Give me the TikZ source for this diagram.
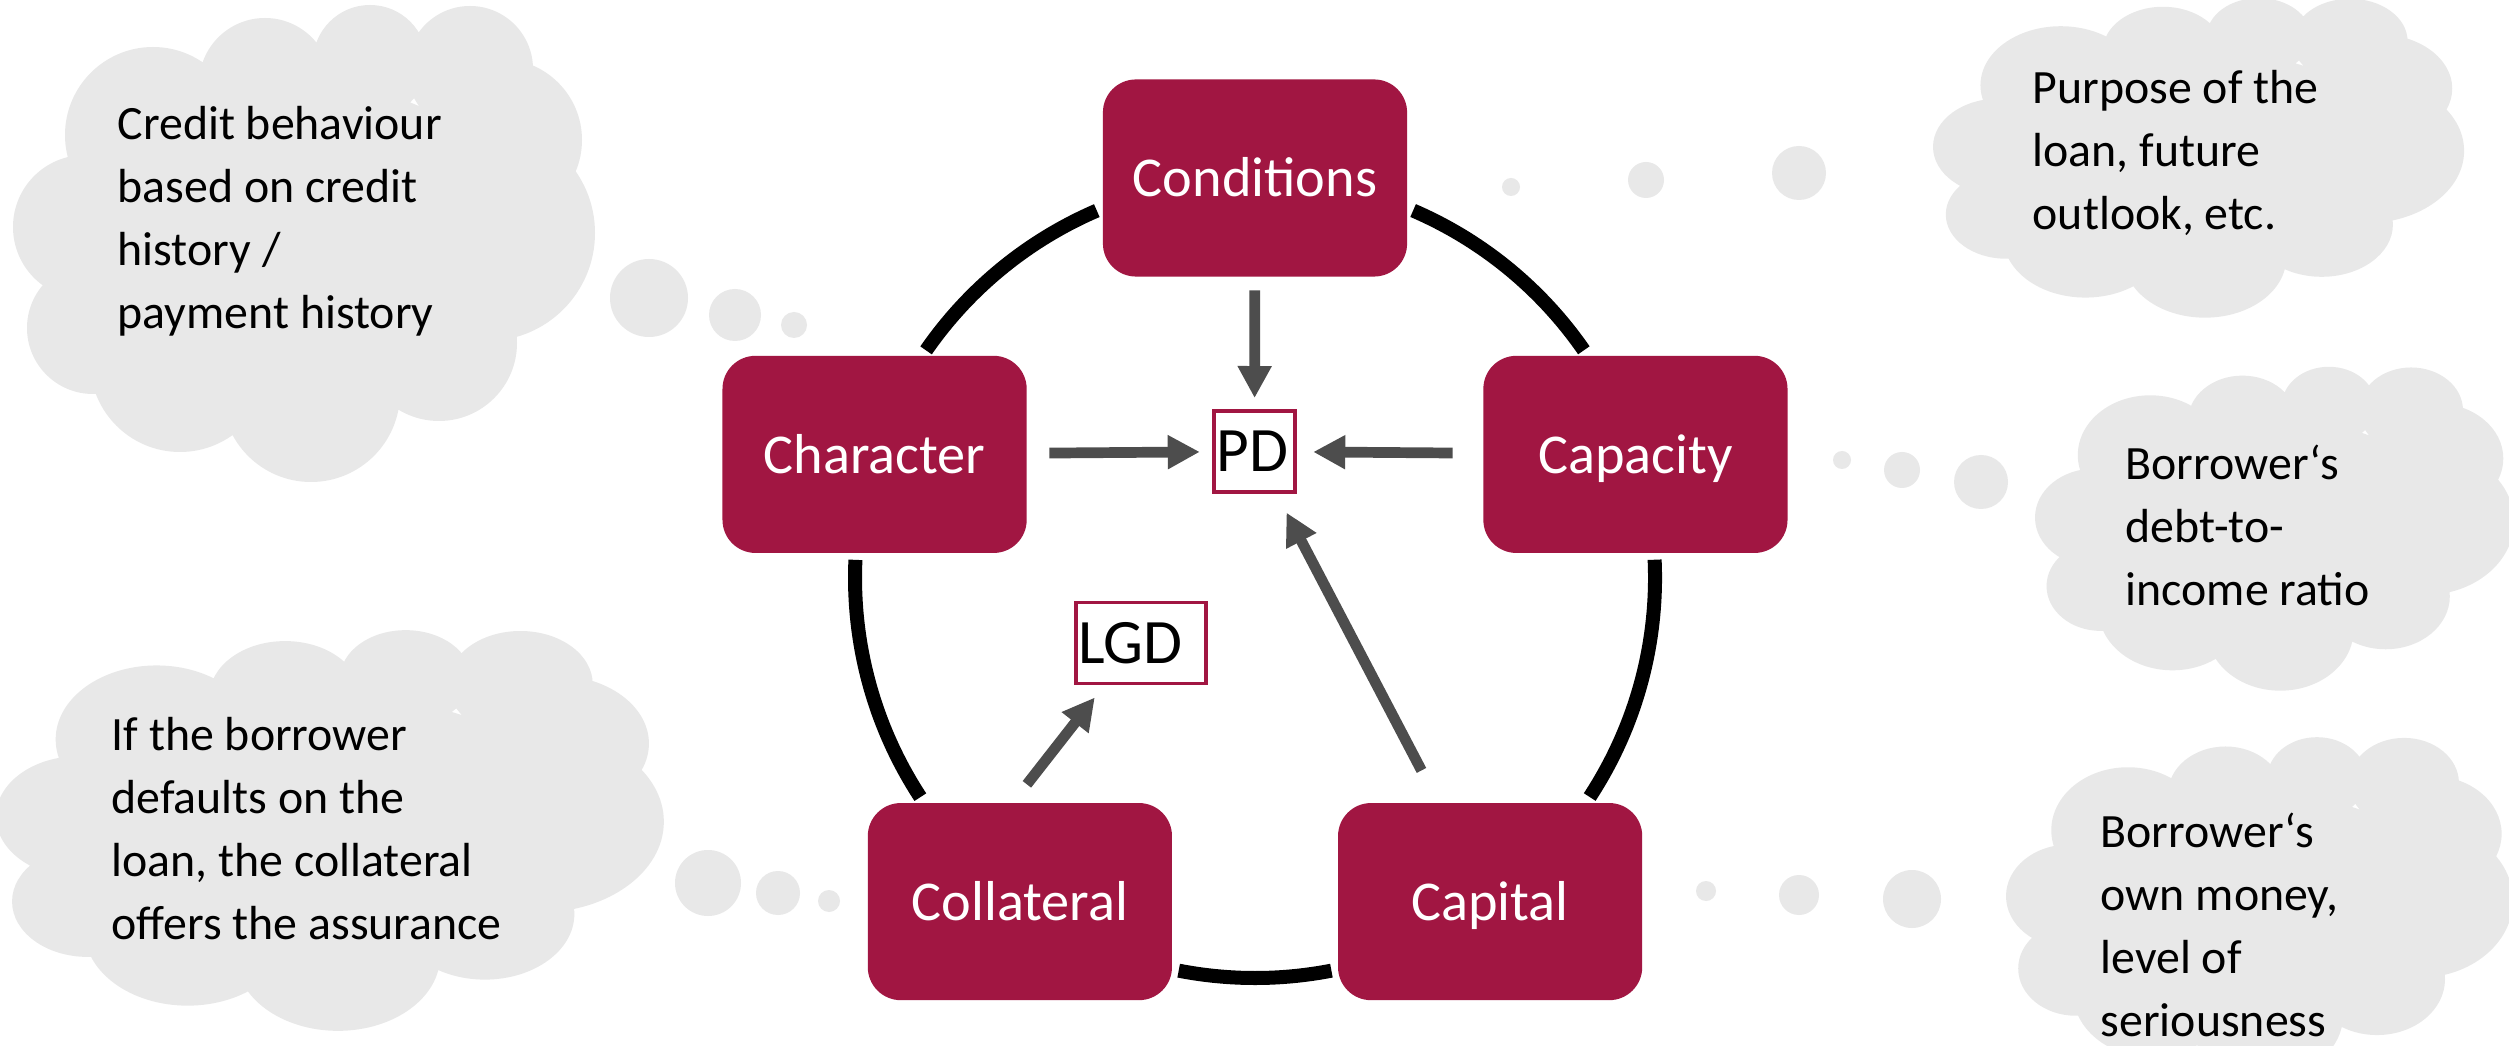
\documentclass[tikz,border=0pt]{standalone}
\usepackage{fontspec}
\setmainfont{Carlito}
\usetikzlibrary{arrows.meta,calc}

\definecolor{berry}{RGB}{161,22,66}
\definecolor{puffgray}{RGB}{232,232,232}
\definecolor{arrowgray}{RGB}{77,77,77}

\tikzset{
  % cloud outline: a core ellipse and eleven lobes, 583 x 476 units
  pics/thought/.style={code={
    \fill[puffgray] (292,238) ellipse [x radius=220, y radius=160]
      \foreach \cx/\cy/\rad in {140/346/88, 252/397/66, 357/419/57, 457/412/63,
        488/341/81, 474/248/108, 426/138/78, 298/88/89, 167/119/90, 80/153/66, 72/254/72}
      { (\cx,\cy) circle [radius=\rad] };
  }}
}

\begin{document}
\begin{tikzpicture}[x=0.01cm, y=0.01cm,
    factor/.style={fill=berry, rounded corners=0.33cm, minimum width=3.04cm,
      minimum height=1.97cm, inner sep=0, text=white,
      font=\fontsize{16}{19}\selectfont, text height=12.6pt, text depth=2pt},
    metric/.style={draw=berry, line width=1.1pt, fill=white, inner xsep=0.03cm,
      inner ysep=0, minimum height=0.81cm, align=left,
      font=\fontsize{18}{22}\selectfont, text height=11.4pt, text depth=0pt},
    note/.style={anchor=north west, inner sep=0, align=left,
      font=\fontsize{13.6}{17.9}\selectfont},
    ring/.style={line width=0.14cm},
    feed/.style={draw=arrowgray, line width=0.107cm,
      -{Triangle[length=0.32cm, width=0.32cm]}},
  ]
    \path[use as bounding box, fill=white] (0,0) rectangle (2509,1045);
    \clip (0,0) rectangle (2509,1045);

    % clouds
    \pic at (13,564) {thought};
    \pic[xscale=0.9125, yscale=0.670] at (1933,728) {thought};
    \pic[xscale=0.823, yscale=0.679] at (2035,355) {thought};
    \pic[xscale=1.1475, yscale=0.840] at (-4,15) {thought};
    \pic[xscale=0.871, yscale=0.716] at (2006,-33) {thought};

    % bubbles leading to the clouds
    \foreach \x/\y/\rad in {649/747/39, 735/730/26, 794/720/13,
        1511/858/9, 1646/865/18, 1799/872/27,
        1842/585/9, 1902/575/18, 1981/563/27,
        708/162/33, 778/152/22, 829/144/11,
        1706/154/10, 1799/150/20, 1912/146/29}
      \fill[puffgray] (\x,\y) circle [radius=\rad];

    \node[note] (behaviour) at (117,939) {Credit behaviour\\based on credit\\history /\\payment history};
    \node[note] (purpose) at (2032,975) {Purpose of the\\loan, future\\outlook, etc.};
    \node[note] (debt) at (2125,601) {Borrower‘s\\debt-to-\\income ratio};
    \node[note] (assurance) at (111,328) {If the borrower\\defaults on the\\loan, the collateral\\offers the assurance};
    \node[note] (money) at (2100,233) {Borrower‘s\\own money,\\level of\\seriousness};

    % ring between the five boxes
    \coordinate (hub) at (1255,467);
    \foreach \a/\b in {113.3/145.3, 177.4/213.2, 259/281, 326.8/362.6, 34.7/66.7}
      \draw[ring] ($(hub)+(\a:400)$) arc [start angle=\a, end angle=\b, radius=4cm];

    \node[factor] (cond) at ($(hub)+(90:400)$) {Conditions};
    \node[factor] (capac) at ($(hub)+(18:400)$) {Capacity};
    \node[factor] (capit) at ($(hub)+(-54:400)$) {Capital};
    \node[factor] (coll) at ($(hub)+(234:400)$) {Collateral};
    \node[factor] (char) at ($(hub)+(162:400)$) {Character};

    \node[metric, text width=0.755cm] (pd) at (1254.5,593.5) {PD};
    \node[metric, text width=1.245cm] (lgd) at (1141,402) {LGD};

    \draw[feed, shorten <=0.13cm, shorten >=0.11cm] (cond) -- (pd);
    \draw[feed, shorten <=0.22cm, shorten >=0.12cm] (char) -- (pd);
    \draw[feed, shorten <=0.30cm, shorten >=0.16cm] (capac) -- (pd);
    \draw[feed, shorten <=0.36cm, shorten >=0.21cm] (capit) -- (pd);
    \draw[feed] ([shift={(0.07cm,0.18cm)}]coll.north) -- ([shift={(0.21cm,-0.12cm)}]lgd.south west);
\end{tikzpicture}
\end{document}
